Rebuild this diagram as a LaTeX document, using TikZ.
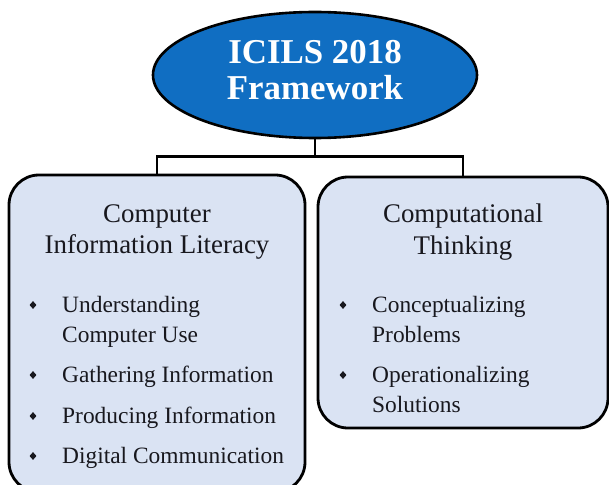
\documentclass[tikz,border=0pt]{standalone}
\usepackage{fontspec}
\setmainfont{Liberation Serif}
\usepackage{xcolor}
\usetikzlibrary{shapes, positioning, calc}

\definecolor{frameblue}{RGB}{16,110,194}
\definecolor{boxfill}{RGB}{218,227,243}
\definecolor{inktext}{RGB}{24,24,30}

\tikzset{
  frame/.style={ellipse, draw, line width=2.6bp, fill=frameblue,
    minimum width=324bp, minimum height=126bp, inner sep=0pt},
  frametext/.style={align=center, text=white, inner sep=0pt,
    font=\bfseries\fontsize{35}{36}\selectfont},
  topic/.style={draw, line width=2.8bp, fill=boxfill, rounded corners=30bp,
    inner sep=0pt},
  topictext/.style={align=center, text=inktext, inner sep=0pt,
    font=\fontsize{27}{32}\selectfont},
  item/.style={anchor=base west, text=inktext, inner sep=0pt,
    font=\fontsize{23.5}{30}\selectfont},
  dot/.style={diamond, fill=inktext, inner sep=0pt,
    minimum width=7bp, minimum height=8bp},
  link/.style={line width=2.8bp}
}

\begin{document}
\begin{tikzpicture}[x=1bp, y=-1bp]
  \useasboundingbox (0,0) rectangle (609,485);
  \clip (0,0) rectangle (609,485);

  \node[frame] (icils) at (315,75) {};
  \node[frametext] (icilslabel) at (315,70.5) {ICILS 2018\\Framework};

  \node[topic, minimum width=296bp, minimum height=317bp] (cil) at (157,333.5) {};
  \node[topic, minimum width=290bp, minimum height=251bp] (ct) at (463,302.5) {};

  \draw[link] (icils.south) -- ++(0,17) coordinate (fork);
  \draw[link] (cil.north) |- (fork) -| (ct.north);

  \node[topictext] (ciltitle) at (157,232) {Computer\\Information Literacy};
  \node[topictext] (cttitle) at (463,232) {Computational\\Thinking};

  % left column
  \foreach \y/\txt [count=\i] in {312/Understanding, 342/Computer Use,
      382/Gathering Information, 423/Producing Information,
      463/Digital Communication}
    \node[item] (cilitem\i) at (62,\y) {\txt};
  \foreach \y [count=\i] in {312,382,423,463}
    \node[dot] (cildot\i) at (33,\y-7) {};

  % right column
  \foreach \y/\txt [count=\i] in {312/Conceptualizing, 342/Problems,
      382/Operationalizing, 412/Solutions}
    \node[item] (ctitem\i) at (372,\y) {\txt};
  \foreach \y [count=\i] in {312,382}
    \node[dot] (ctdot\i) at (343,\y-7) {};
\end{tikzpicture}
\end{document}
